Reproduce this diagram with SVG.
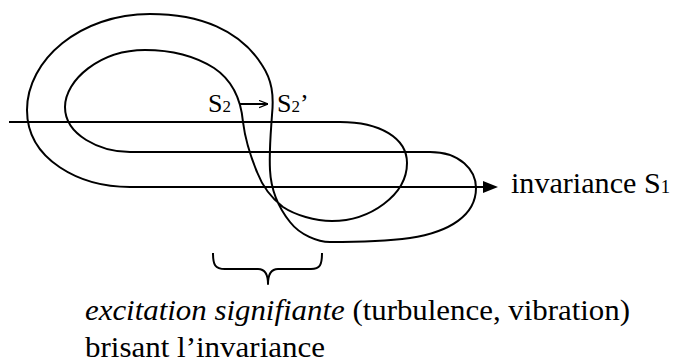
<svg xmlns="http://www.w3.org/2000/svg" width="673" height="363" viewBox="0 0 673 363">
<defs>
<style>
.ln{fill:none;stroke:#000;stroke-width:2;stroke-linejoin:round}
.t{font-family:"Liberation Serif","Times New Roman",serif;fill:#000}
</style>
<marker id="ah" viewBox="0 0 15 12" refX="0" refY="6" markerWidth="15" markerHeight="12" markerUnits="userSpaceOnUse" orient="auto">
<path d="M0,0 L15,6 L0,12 Z" fill="#000"/>
</marker>
<marker id="sa" viewBox="0 0 10 10" refX="10" refY="5" markerWidth="9" markerHeight="9" markerUnits="userSpaceOnUse" orient="auto">
<path d="M0,1 L10,5 L0,9" fill="none" stroke="#000" stroke-width="1.3"/>
</marker>
</defs>
<g id="connectors">
<path class="ln" marker-end="url(#ah)" d="M9,122 L340,122 C380,122 407,138 407,163 C407,195 370,221 332,221 C315,221 295,215 283,207 C270,197 262,185 257,172 C250,155 245,138 243,122 C241,100 232,80 214,68 C195,56 170,50 145,50 C100,50 65,80 65,107 C65,135 100,152 130,152 L430,152 C460,152 476,170 476,188 C476,215 450,232 410,238 C380,242 350,242 330,242 C318,242 300,235 290,222 C278,207 271,190 270,170 C269,150 271,130 272,115 C274,95 272,80 262,65 C240,30 200,14 150,14 C80,14 27,60 27,110 C27,160 80,187 130,187 L483,187"/>
<path class="ln" stroke-width="1.5" marker-end="url(#sa)" d="M240,104 L268,104"/>
<path class="ln" stroke-width="1.6" d="M213,253 C213,265 215,269 225,269 L258,269 C265,269 268,274 268,284 C268,274 271,269 278,269 L311,269 C320,269 322,265 322,253"/>
</g>
<g id="s2">
<text class="t" x="208" y="112" font-size="26">S<tspan font-size="17">2</tspan></text>
<text class="t" x="277" y="112" font-size="26">S<tspan font-size="17">2</tspan>’</text>
</g>
<g id="s1">
<text class="t" x="511" y="193" font-size="29" textLength="159" lengthAdjust="spacingAndGlyphs">invariance S<tspan font-size="18">1</tspan></text>
</g>
<g id="caption">
<text class="t" x="85" y="320" font-size="29" textLength="545" lengthAdjust="spacingAndGlyphs"><tspan font-style="italic">excitation signifiante</tspan> (turbulence, vibration)</text>
<text class="t" x="85" y="357" font-size="29" textLength="240" lengthAdjust="spacingAndGlyphs">brisant l’invariance</text>
</g>
</svg>
